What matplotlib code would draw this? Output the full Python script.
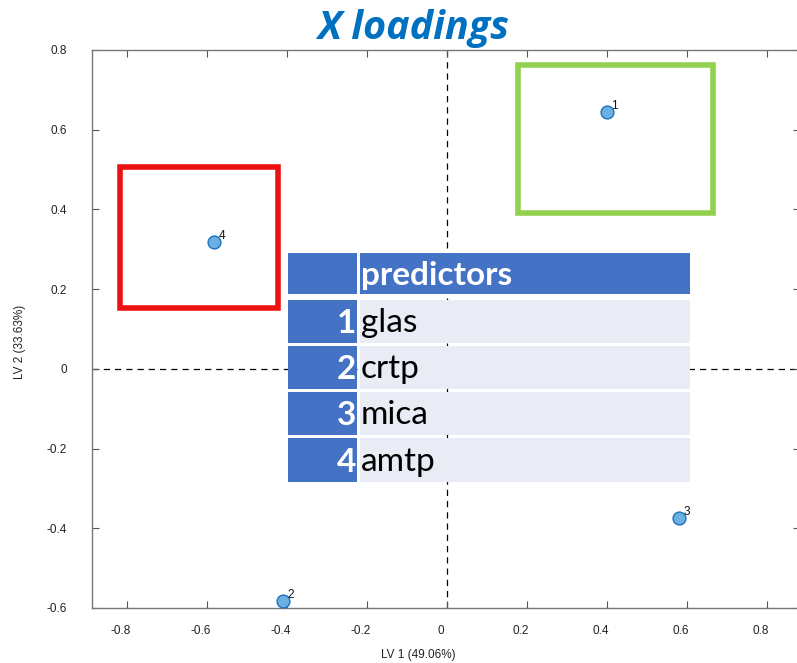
import matplotlib
matplotlib.use("Agg")
import matplotlib.pyplot as plt
from matplotlib.patches import Rectangle
from matplotlib.transforms import ScaledTranslation

# loadings
lv1 = [0.400, -0.410, 0.580, -0.582]
lv2 = [0.645, -0.582, -0.374, 0.319]
point_ids = ["1", "2", "3", "4"]
predictor_names = ["glas", "crtp", "mica", "amtp"]

W, H = 797, 663


def fx(px):
    return px / W


def fy(py):
    return 1 - py / H


fig = plt.figure(figsize=(W / 100, H / 100), dpi=100)
fig.patch.set_facecolor("white")

# axes: left spine at 92px, top at 50px, bottom at 608px, right just outside
ax = fig.add_axes([fx(92), fy(608), fx(800) - fx(92), fy(50) - fy(608)])
ax.set_xlim(-0.8875, 0.8825)
ax.set_ylim(-0.6, 0.8)
ax.set_xticks([-0.8, -0.6, -0.4, -0.2, 0, 0.2, 0.4, 0.6, 0.8])
ax.set_xticklabels(["-0.8", "-0.6", "-0.4", "-0.2", "0", "0.2", "0.4", "0.6", "0.8"])
ax.set_yticks([-0.6, -0.4, -0.2, 0, 0.2, 0.4, 0.6, 0.8])
ax.set_yticklabels(["-0.6", "-0.4", "-0.2", "0", "0.2", "0.4", "0.6", "0.8"])
for s in ax.spines.values():
    s.set_color("#777777")
    s.set_linewidth(1.0)
ax.tick_params(direction="in", top=True, right=True, length=5, width=0.8,
               color="#555555", labelsize=8.5, labelcolor="#222222")
ax.tick_params(axis="y", pad=18)
ax.tick_params(axis="x", pad=12)
shift = ScaledTranslation(-6 / 100, 0, fig.dpi_scale_trans)
for lab in ax.get_xticklabels():
    lab.set_fontfamily("Liberation Sans")
    lab.set_transform(lab.get_transform() + shift)
for lab in ax.get_yticklabels():
    lab.set_fontfamily("Liberation Sans")

ax.axvline(0, color="black", ls=(0, (5, 4)), lw=0.9, zorder=1)
ax.axhline(0, color="black", ls=(0, (5, 4)), lw=0.9, zorder=1)

ax.scatter(lv1, lv2, s=85, facecolor="#6cb0e2", edgecolor="#1a72c0",
           linewidth=1.0, zorder=3, clip_on=False)
for x, y, t in zip(lv1, lv2, point_ids):
    ax.annotate(t, (x, y), xytext=(3, 2), textcoords="offset points",
                fontsize=8.5, family="Liberation Sans", color="#111111", zorder=4)

# axis labels
fig.text(fx(418), fy(655), "LV 1 (49.06%)", ha="center", va="center",
         fontsize=8.5, family="Liberation Sans", color="#222222")
fig.text(fx(20), fy(342), "LV 2 (33.63%)", ha="center", va="center", rotation=90,
         fontsize=8.5, family="Liberation Sans", color="#222222")

# title
fig.text(fx(413), fy(28), "X loadings", ha="center", va="center", fontsize=28.5,
         fontweight="bold", fontstyle="italic", family="Open Sans", color="#0070c0")

# highlight boxes
fig.patches.append(Rectangle((fx(518), fy(213)), fx(713) - fx(518), fy(65) - fy(213),
                             transform=fig.transFigure, fill=False,
                             edgecolor="#92d050", linewidth=4, zorder=5))
fig.patches.append(Rectangle((fx(120), fy(308)), fx(278) - fx(120), fy(167) - fy(308),
                             transform=fig.transFigure, fill=False,
                             edgecolor="#ee1111", linewidth=4, zorder=5))

# predictor table overlay
blue = "#4472c4"
light = "#e9ebf5"
rows = [(253, 294)] + [(300, 343), (346, 389), (392, 435), (438, 482)]
x0, x1, x2, x3 = 288, 357, 360, 690
for i, (top, bot) in enumerate(rows):
    fig.patches.append(Rectangle((fx(x0), fy(bot)), fx(x1) - fx(x0), fy(top) - fy(bot),
                                 transform=fig.transFigure, facecolor=blue,
                                 edgecolor="none", zorder=6))
    fig.patches.append(Rectangle((fx(x2), fy(bot)), fx(x3) - fx(x2), fy(top) - fy(bot),
                                 transform=fig.transFigure,
                                 facecolor=blue if i == 0 else light,
                                 edgecolor="none", zorder=6))
    yc = fy((top + bot) / 2 + 2)
    if i == 0:
        fig.text(fx(361), yc, "predictors", ha="left", va="center", fontsize=24,
                 fontweight="bold", family="Lato", color="white", zorder=7)
    else:
        fig.text(fx(356), yc, point_ids[i - 1], ha="right", va="center", fontsize=24,
                 fontweight="bold", family="Lato", color="white", zorder=7)
        fig.text(fx(361), yc, predictor_names[i - 1], ha="left", va="center",
                 fontsize=24, family="Lato", color="black", zorder=7)

fig.savefig("out.png", dpi=100)
